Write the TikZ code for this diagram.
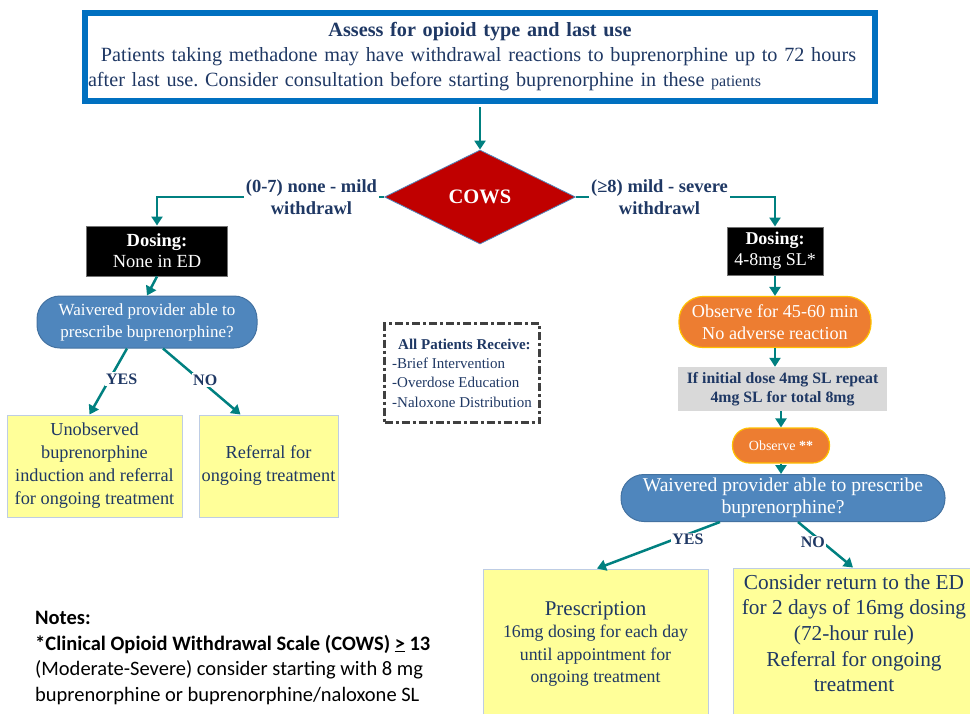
\documentclass[tikz,border=0pt]{standalone}
\usepackage{fontspec}
\setmainfont{Liberation Serif}
\newfontfamily\notesfont{Carlito}
\usetikzlibrary{shapes.geometric,arrows.meta,positioning}
\definecolor{boxblue}{RGB}{0,112,192}
\definecolor{flowteal}{RGB}{0,128,128}
\definecolor{cowsred}{RGB}{192,0,0}
\definecolor{textblue}{RGB}{31,56,100}
\definecolor{pillblue}{RGB}{79,134,189}
\definecolor{obsorange}{RGB}{237,125,49}
\definecolor{obsgold}{RGB}{255,192,0}
\definecolor{repeatgray}{RGB}{217,217,217}
\definecolor{outyellow}{RGB}{255,255,153}
\definecolor{outedge}{RGB}{190,205,228}
\definecolor{dashgray}{RGB}{64,64,64}
\newcommand{\fs}[2]{\fontsize{#1}{#2}\selectfont}
\frenchspacing

\begin{document}
\begin{tikzpicture}[x=1pt,y=-1pt,inner sep=0pt]
    \tikzstyle{flow}=[draw=flowteal,line width=2.5pt,-{Triangle[length=9pt,width=11pt]}]
	\tikzstyle{dosing}=[rectangle,fill=black,draw=black!55,line width=1pt,text=white,align=center,font=\fs{18.5}{21}]
	\tikzstyle{decision}=[rectangle,rounded corners=23pt,fill=pillblue,draw=pillblue!85!black,line width=1pt,text=white,align=center]
	\tikzstyle{observe}=[rectangle,rounded corners=24pt,fill=obsorange,draw=obsgold,line width=1.2pt,text=white,align=center]
	\tikzstyle{outcome}=[rectangle,fill=outyellow,draw=outedge,line width=1pt,text=textblue,align=center]
	\tikzstyle{branch}=[fill=white,text=textblue,font=\bfseries\fs{18.5}{22},align=center,inner sep=2pt]
	\tikzstyle{answer}=[fill=white,text=textblue,font=\bfseries\fs{16}{18},inner sep=1.5pt]

	\useasboundingbox (0,0) rectangle (970,713);
	\clip (0,0) rectangle (970,713);

	% Assessment box and COWS decision
	\node[draw=boxblue,line width=6pt,minimum width=790pt,minimum height=88pt,text width=784pt,align=left,text=textblue,font=\fs{20.2}{25}] (assess) at (480,57) {\makebox[784pt]{\bfseries Assess for opioid type and last use}\\\hspace*{13pt}Patients taking methadone may have withdrawal reactions to buprenorphine up to 72 hours\\after last use. Consider consultation before starting buprenorphine in these {\fs{16}{25}patients}};
	\node[diamond,fill=cowsred,draw=pillblue,line width=0.8pt,minimum width=191pt,minimum height=94pt,text=white,font=\bfseries\fs{20.5}{22}] (cows) at (480,197) {COWS};
	\draw[flow,shorten <=3pt] (assess.south) -- (cows.north);

	% Draw the dosing boxes
	\node[dosing,minimum width=141pt,minimum height=50pt] (dose-l) at (157,251) {\textbf{Dosing:}\\None in ED};
	\node[dosing,minimum width=96pt,minimum height=48pt,font=\fs{18}{21}] (dose-r) at (775,251) {\textbf{Dosing:}\\4-8mg SL*};
	\draw[flow] (cows.west) -| node[branch,pos=0.16] (mild) {(0-7) none - mild\\withdrawl} (dose-l.north);
	\draw[flow] (cows.east) -| node[branch,pos=0.21] (severe) {(≥8) mild - severe\\withdrawl} (dose-r.north);

	% Left branch: no dosing in the ED
	\node[decision,minimum width=220pt,minimum height=52pt,font=\fs{17}{22}] (prov-l) at (147,322) {Waivered provider able to\\prescribe buprenorphine?};
	\node[outcome,minimum width=175pt,minimum height=102pt,font=\fs{18.3}{23}] (unobs) at (94.5,466) {Unobserved\\buprenorphine\\induction and referral\\for ongoing treatment};
	\node[outcome,minimum width=139pt,minimum height=102pt,font=\fs{18.3}{23}] (refer-l) at (268.5,466) {Referral for\\ongoing treatment};
	\draw[flow] (dose-l.south) -- (prov-l.north);
	\draw[flow] ([xshift=-20pt]prov-l.south) -- node[answer,pos=0.46,xshift=12pt] (yes-l) {YES} ([xshift=-5pt]unobs.north);
	\draw[flow] ([xshift=16pt]prov-l.south) -- node[answer,pos=0.48,xshift=5pt] (no-l) {NO} ([xshift=-28pt]refer-l.north);

	% Everybody gets these
	\node[draw=dashgray,line width=3pt,dash pattern=on 8pt off 3pt on 3pt off 3pt,minimum width=155pt,minimum height=99pt,align=left,text=textblue,font=\fs{15}{19.3}] (receive) at (462,373) {\hspace*{6pt}\textbf{All Patients Receive:}\\-Brief Intervention\\-Overdose Education\\-Naloxone Distribution};

	% Right branch: dose and observe
	\node[observe,minimum width=192pt,minimum height=51pt,font=\fs{18.2}{22}] (obs-1) at (775,322) {Observe for 45-60 min\\No adverse reaction};
	\node[fill=repeatgray,minimum width=209pt,minimum height=44pt,align=center,text=textblue,font=\bfseries\fs{15.8}{19.5}] (repeat) at (782.5,389) {If initial dose 4mg SL repeat\\4mg SL for total 8mg};
	\node[observe,rounded corners=17pt,minimum width=97pt,minimum height=35pt,font=\fs{14}{16}] (obs-2) at (781,445.5) {Observe \textbf{**}};
	\node[decision,minimum width=324pt,minimum height=47pt,font=\fs{19.6}{22}] (prov-r) at (783,498) {Waivered provider able to prescribe\\buprenorphine?};
	\draw[flow] (dose-r.south) -- (obs-1.north);
	\draw[flow] (obs-1.south) -- (obs-1.south |- repeat.north);
	\draw[flow] (obs-2.north |- repeat.south) -- (obs-2.north);
	\draw[flow] (obs-2.south) -- (obs-2.south |- prov-r.north);

	% Outcomes on the right
	\node[outcome,minimum width=225pt,minimum height=150pt,font=\fs{17.8}{22.5}] (rx) at (595.5,644) {{\fs{21}{25}Prescription}\\16mg dosing for each day\\until appointment for\\ongoing treatment};
	\node[outcome,minimum width=242pt,minimum height=156pt,font=\fs{21.3}{25.7}] (return) at (854,646) {Consider return to the ED\\for 2 days of 16mg dosing\\(72-hour rule)\\Referral for ongoing\\treatment\\\mbox{}};
	\draw[flow] ([xshift=-63pt]prov-r.south) -- node[answer,pos=0.375,xshift=14pt] (yes-r) {YES} ([xshift=1.5pt]rx.north);
	\draw[flow] ([xshift=15pt]prov-r.south) -- node[answer,pos=0.45,xshift=-10pt] (no-r) {NO} ([xshift=-1pt]return.north);

	% Notes
	\node[anchor=north west,align=left,font=\notesfont\fs{20.5}{25.5}] (notes) at (35,611) {\textbf{Notes:}\\\textbf{*Clinical Opioid Withdrawal Scale (COWS) \underline{>} 13}\\(Moderate-Severe) consider starting with 8 mg\\buprenorphine or buprenorphine/naloxone SL};
\end{tikzpicture}
\end{document}
